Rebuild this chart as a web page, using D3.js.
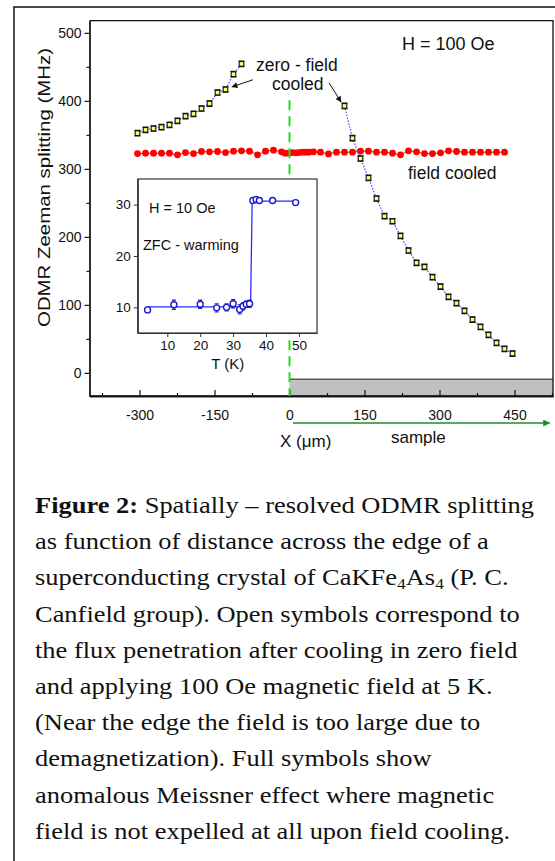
<!DOCTYPE html>
<head>
<meta charset="utf-8">
<script src="https://cdn.jsdelivr.net/npm/d3@7"></script>
<style>
body { margin: 0; background: #fff; }
text { font-family: "Liberation Sans", Arial, sans-serif; fill: #111; }
.caption text { font-family: "Liberation Serif", "Times New Roman", serif; }
</style>
</head>
<body>
<script>

// field cooled (full red symbols)
var fcX = [-304,-288,-272,-256,-240,-224,-208,-192,-176,-160,-144,-128,-112,-96,-80,-64,-48,-32,
           -16,-9,-2,5,12,18,25,32,39,48,62,78,94,
           110,126,142,158,174,190,206,222,238,254,270,286,302,318,334,350,366,382,398,414,430];
var fcY = [322.5,323,323,323,323,320.6,324,322.5,325.5,325,325.5,324,326,326.5,326,320.6,326,327.5,
           325,323,323,324,323.5,324,324.5,324.5,324.5,325,324.5,322,324.5,
           324.5,324.5,326,326,324.5,324.5,323,320.6,326.5,325,322.5,322.5,323.5,326.5,325.5,324.5,324.5,324.5,324.5,324.5,324.5];

// zero-field cooled (open symbols), outside and inside the sample
var zfcLX = [-304,-288,-272,-256,-240,-224,-208,-192,-176,-160,-144,-128,-112,-96];
var zfcLY = [352.5,357.4,359.3,361.3,364.7,370.6,377.5,380.9,388.7,396,412.2,416.7,439.2,454.4];
var zfcRX = [110,126,142,158,174,190,206,222,238,254,270,286,302,318,334,350,366,382,398,414,430,446];
var zfcRY = [392.6,345.1,315.2,286.8,256.4,230.4,223.0,201.5,179.9,161.8,155.9,140.7,126.9,111.8,102.5,91.2,78.4,67.6,55.9,44.1,35.3,28.4];
var zfcErr = 4;

// inset: ZFC warming at H = 10 Oe
var insetT   = [4, 12, 20, 25, 28, 30, 32, 33, 34, 35, 36, 37, 38, 42, 49];
var insetY   = [9.5, 10.5, 10.6, 9.9, 10.0, 10.7, 9.6, 10.2, 10.6, 10.7, 30.8, 31.0, 30.8, 30.8, 30.4];
var insetErr = [0.5, 0.9, 0.8, 0.8, 0.7, 0.8, 0.9, 0.7, 0.6, 0.7, 0.3, 0.3, 0.3, 0.3, 0.3];
var fitT = [4, 35.3, 35.8, 49];
var fitY = [10.1, 10.1, 30.7, 30.7];

var xTicks = [-300, -150, 0, 150, 300, 450];
var yTicks = [0, 100, 200, 300, 400, 500];
var insetXTicks = [10, 20, 30, 40, 50];
var insetYTicks = [10, 20, 30];

var captionLines = [
  [["Figure 2:", "b"], [" Spatially – resolved ODMR splitting", ""]],
  [["as function of distance across the edge of a", ""]],
  [["superconducting crystal of CaKFe", ""], ["4", "sub"], ["As", ""], ["4", "sub"], [" (P. C.", ""]],
  [["Canfield group). Open symbols correspond to", ""]],
  [["the flux penetration after cooling in zero field", ""]],
  [["and applying 100 Oe magnetic field at 5 K.", ""]],
  [["(Near the edge the field is too large due to", ""]],
  [["demagnetization). Full symbols show", ""]],
  [["anomalous Meissner effect where magnetic", ""]],
  [["field is not expelled at all upon field cooling.", ""]]
];

var W = 555, H = 861;
var svg = d3.select("body").append("svg")
    .attr("width", W)
    .attr("height", H);

// outer frame
svg.append("rect")
    .attr("x", 14).attr("y", 7)
    .attr("width", 560).attr("height", 870)
    .attr("fill", "none").attr("stroke", "#111").attr("stroke-width", 1.5);

var x = d3.scaleLinear().domain([-400, 527]).range([89.5, 553]);
var y = d3.scaleLinear().domain([-34, 518]).range([396, 20.6]);

var plot = svg.append("g");

// sample block
plot.append("rect")
    .attr("x", x(0)).attr("y", y(-9.5))
    .attr("width", x(527) - x(0)).attr("height", y(-34) - y(-9.5))
    .attr("fill", "#c0c0c0");
plot.append("line")
    .attr("x1", x(0)).attr("x2", x(527))
    .attr("y1", y(-9.5)).attr("y2", y(-9.5))
    .attr("stroke", "#5a5a5a").attr("stroke-width", 1.5);

// axes (plain hyphen for negatives, as in the original)
var plain = d => String(d);
plot.append("g")
    .attr("transform", "translate(" + x(-400) + ",0)")
    .call(d3.axisLeft(y).tickValues(yTicks).tickFormat(plain).tickSize(5).tickPadding(3).tickSizeOuter(0));
plot.append("g")
    .attr("transform", "translate(" + x(-400) + ",0)")
    .call(d3.axisLeft(y).tickValues([50, 150, 250, 350, 450]).tickSize(3).tickFormat("").tickSizeOuter(0));

plot.append("g")
    .attr("transform", "translate(0," + y(-34) + ")")
    .call(d3.axisBottom(x).tickValues(xTicks).tickFormat(plain).tickSize(-6).tickPadding(14).tickSizeOuter(0));
plot.append("g")
    .attr("transform", "translate(0," + y(-34) + ")")
    .call(d3.axisBottom(x).tickValues([-375, -225, -75, 75, 225, 375, 525]).tickSize(-3).tickFormat("").tickSizeOuter(0));

plot.selectAll(".domain").attr("stroke", "#111").attr("stroke-width", 1.3);
plot.selectAll(".tick line").attr("stroke", "#111").attr("stroke-width", 1.2);
plot.selectAll(".tick text").style("font-size", "14px").attr("fill", "#111")
    .style("font-family", "'Liberation Sans', Arial, sans-serif");

// frame top / right
plot.append("path")
    .attr("d", "M" + x(-400) + "," + y(518) + "H" + x(527) + "V" + y(-34) + "H" + x(-400))
    .attr("fill", "none").attr("stroke", "#111").attr("stroke-width", 1.3);

// field cooled series
var line = d3.line().x(d => x(d[0])).y(d => y(d[1]));
var fc = fcX.map((v, i) => [v, fcY[i]]);
plot.append("path")
    .attr("d", line(fc))
    .attr("fill", "none").attr("stroke", "#ff2020").attr("stroke-width", 1);
plot.selectAll("circle.fc")
    .data(fc)
  .enter().append("circle")
    .attr("class", "fc")
    .attr("cx", d => x(d[0]))
    .attr("cy", d => y(d[1]))
    .attr("r", 3.4)
    .attr("fill", "#ff0000");

// zfc series
var zfcL = zfcLX.map((v, i) => [v, zfcLY[i]]);
var zfcR = zfcRX.map((v, i) => [v, zfcRY[i]]);
[zfcL, zfcR].forEach(function(s) {
    plot.append("path")
        .attr("d", line(s))
        .attr("fill", "none").attr("stroke", "#3a3aff")
        .attr("stroke-width", 1.1).attr("stroke-dasharray", "1.5,1.5");
});
var zfc = zfcL.concat(zfcR);
var eb = plot.selectAll("g.zfc")
    .data(zfc)
  .enter().append("g")
    .attr("class", "zfc");
eb.append("path")
    .attr("d", d => "M" + (x(d[0]) - 3) + "," + y(d[1] + zfcErr) + "h6"
                  + "M" + x(d[0]) + "," + y(d[1] + zfcErr) + "V" + y(d[1] - zfcErr)
                  + "M" + (x(d[0]) - 3) + "," + y(d[1] - zfcErr) + "h6")
    .attr("stroke", "#111").attr("stroke-width", 1.2).attr("fill", "none");
eb.append("rect")
    .attr("x", d => x(d[0]) - 2.3)
    .attr("y", d => y(d[1]) - 2.3)
    .attr("width", 4.6).attr("height", 4.6)
    .attr("fill", "#ffff70").attr("stroke", "#111").attr("stroke-width", 1.1);

// edge of the sample (x = 0)
plot.append("line")
    .attr("x1", x(0)).attr("x2", x(0))
    .attr("y1", y(401)).attr("y2", y(-34))
    .attr("stroke", "#22dd22").attr("stroke-width", 2)
    .attr("stroke-dasharray", "10,6");

// arrows
var defs = svg.append("defs");
defs.append("marker")
    .attr("id", "ah")
    .attr("viewBox", "0 0 10 10").attr("refX", 9).attr("refY", 5)
    .attr("markerWidth", 8).attr("markerHeight", 6).attr("orient", "auto")
    .attr("markerUnits", "userSpaceOnUse")
  .append("path").attr("d", "M0,0L10,5L0,10z").attr("fill", "#111");
defs.append("marker")
    .attr("id", "gh")
    .attr("viewBox", "0 0 10 10").attr("refX", 9).attr("refY", 5)
    .attr("markerWidth", 11).attr("markerHeight", 7).attr("orient", "auto")
    .attr("markerUnits", "userSpaceOnUse")
  .append("path").attr("d", "M0,0L10,5L0,10z").attr("fill", "#1f8f1f");

plot.append("line")
    .attr("x1", x(-73)).attr("y1", y(431))
    .attr("x2", x(-115)).attr("y2", y(420.6))
    .attr("stroke", "#111").attr("stroke-width", 1)
    .attr("marker-end", "url(#ah)");
plot.append("line")
    .attr("x1", x(79)).attr("y1", y(426.5))
    .attr("x2", x(103)).attr("y2", y(398.5))
    .attr("stroke", "#111").attr("stroke-width", 1)
    .attr("marker-end", "url(#ah)");

svg.append("line")
    .attr("x1", x(7)).attr("x2", x(520))
    .attr("y1", 423).attr("y2", 423)
    .attr("stroke", "#1f8f1f").attr("stroke-width", 1.5)
    .attr("marker-end", "url(#gh)");

// labels
svg.append("text").attr("x", 402).attr("y", 50).style("font-size", "18px").text("H = 100 Oe");
svg.append("text").attr("x", 256).attr("y", 71).style("font-size", "17.5px").text("zero - field");
svg.append("text").attr("x", 272).attr("y", 90).style("font-size", "17.5px").text("cooled");
svg.append("text").attr("x", 408).attr("y", 179).style("font-size", "17.5px").text("field cooled");
svg.append("text").attr("x", 280).attr("y", 447).style("font-size", "17px").text("X (μm)");
svg.append("text").attr("x", 391).attr("y", 443).style("font-size", "17px").text("sample");

svg.append("text")
    .attr("transform", "translate(50,187.5) rotate(-90)")
    .attr("text-anchor", "middle")
    .attr("textLength", 279).attr("lengthAdjust", "spacingAndGlyphs")
    .style("font-size", "17px")
    .text("ODMR Zeeman splitting (MHz)");

// inset
var xi = d3.scaleLinear().domain([1, 55.5]).range([137.7, 317]);
var yi = d3.scaleLinear().domain([5, 35]).range([333, 179]);
var inset = svg.append("g");
inset.append("rect")
    .attr("x", xi(1)).attr("y", yi(35))
    .attr("width", xi(55.5) - xi(1)).attr("height", yi(5) - yi(35))
    .attr("fill", "#fff").attr("stroke", "#333").attr("stroke-width", 1.2);

inset.append("g")
    .attr("transform", "translate(" + xi(1) + ",0)")
    .call(d3.axisLeft(yi).tickValues(insetYTicks).tickSize(4).tickPadding(3).tickSizeOuter(0));
inset.append("g")
    .attr("transform", "translate(0," + yi(5) + ")")
    .call(d3.axisBottom(xi).tickValues(insetXTicks).tickSize(4).tickPadding(3).tickSizeOuter(0));
inset.selectAll(".domain").attr("stroke", "#333").attr("stroke-width", 1.2);
inset.selectAll(".tick line").attr("stroke", "#333");
inset.selectAll(".tick text").style("font-size", "13.5px").attr("fill", "#111")
    .style("font-family", "'Liberation Sans', Arial, sans-serif");

var lineI = d3.line().x(d => xi(d[0])).y(d => yi(d[1]));
inset.append("path")
    .attr("d", lineI(fitT.map((v, i) => [v, fitY[i]])))
    .attr("fill", "none").attr("stroke", "#2a2aff").attr("stroke-width", 1.3);

var ins = insetT.map((v, i) => [v, insetY[i], insetErr[i]]);
inset.selectAll("path.err")
    .data(ins)
  .enter().append("path")
    .attr("class", "err")
    .attr("d", d => "M" + (xi(d[0]) - 2) + "," + yi(d[1] + d[2]) + "h4"
                  + "M" + xi(d[0]) + "," + yi(d[1] + d[2]) + "V" + yi(d[1] - d[2])
                  + "M" + (xi(d[0]) - 2) + "," + yi(d[1] - d[2]) + "h4")
    .attr("stroke", "#1a1acc").attr("stroke-width", 1.1).attr("fill", "none");
inset.selectAll("circle.pt")
    .data(ins)
  .enter().append("circle")
    .attr("class", "pt")
    .attr("cx", d => xi(d[0]))
    .attr("cy", d => yi(d[1]))
    .attr("r", 3)
    .attr("fill", "#fff").attr("stroke", "#1a1acc").attr("stroke-width", 1.4);

inset.append("text").attr("x", 149).attr("y", 212.5).style("font-size", "14.5px").text("H = 10 Oe");
inset.append("text").attr("x", 143).attr("y", 250).style("font-size", "14.5px").text("ZFC - warming");
inset.append("text").attr("x", 227.7).attr("y", 369).attr("text-anchor", "middle")
    .style("font-size", "15px").text("T (K)");

// caption
var cap = svg.append("g")
    .attr("class", "caption")
    .attr("transform", "translate(35,0) scale(1.16,1)");
captionLines.forEach(function(parts, i) {
    var t = cap.append("text")
        .attr("x", 0)
        .attr("y", 513 + i * 36.2)
        .style("font-size", "22.8px");
    parts.forEach(function(p) {
        var s = t.append("tspan").text(p[0]);
        if (p[1] == "b") s.style("font-weight", "bold");
        if (p[1] == "sub") s.style("font-size", "15px").attr("baseline-shift", "-4");
    });
});

</script>
</body>
</html>
